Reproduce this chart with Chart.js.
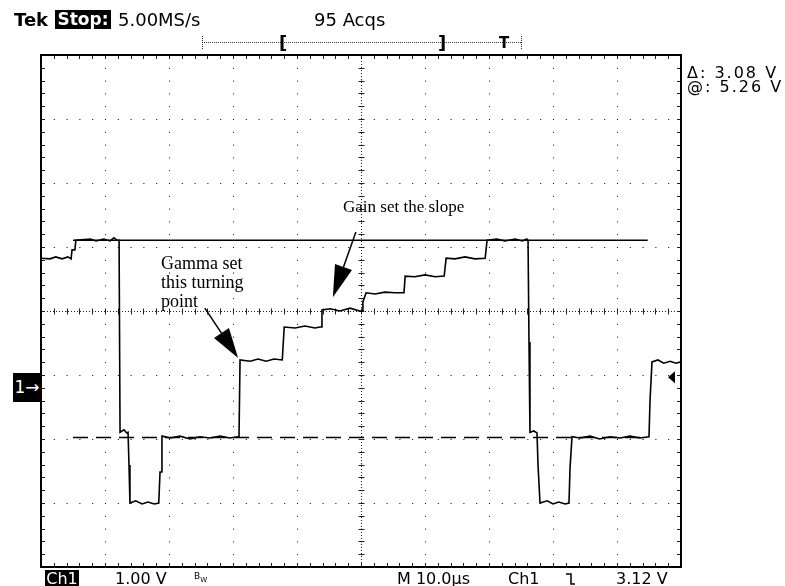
<!DOCTYPE html>
<html><head><meta charset="utf-8">
<script src="https://cdn.jsdelivr.net/npm/chart.js@4.4.1/dist/chart.umd.min.js"></script>
<style>
html,body{margin:0;padding:0;background:#fff;}
#wrap{position:relative;width:785px;height:586px;overflow:hidden;background:#fff;}
canvas{position:absolute;left:0;top:0;}
.t{position:absolute;white-space:pre;font-family:"DejaVu Sans",sans-serif;color:#000;line-height:1;}
.serif{font-family:"Liberation Serif",serif;line-height:19px;font-size:18px;}
.inv{background:#000;color:#fff;}
</style></head><body>
<div id="wrap">
<canvas id="c" width="785" height="586"></canvas>
<div class="t" style="left:14px;top:11px;font-size:18px;font-weight:bold">Tek</div>
<div class="t inv" style="left:55px;top:10px;width:56px;height:19px;font-size:17px;font-weight:bold;text-align:center;line-height:19px">Stop:</div>
<div class="t" style="left:118px;top:11px;font-size:18px">5.00MS/s</div>
<div class="t" style="left:314px;top:11px;font-size:18px">95 Acqs</div>
<div class="t" style="left:279px;top:34px;font-size:18px;font-weight:bold">[</div>
<div class="t" style="left:438px;top:34px;font-size:18px;font-weight:bold">]</div>
<div class="t" style="left:499px;top:36px;font-size:15px;font-weight:bold">T</div>
<div class="t" style="left:687px;top:65px;font-size:16px;letter-spacing:2px">Δ: 3.08 V</div>
<div class="t" style="left:687px;top:79px;font-size:16px;letter-spacing:2px">@: 5.26 V</div>
<div class="t inv" style="left:13px;top:373px;width:28px;height:29px;font-size:17px;line-height:29px;text-align:center">1→</div>
<div class="t inv" style="left:45px;top:570px;width:34px;height:16px;font-size:16px;line-height:17px;text-align:center">Ch1</div>
<div class="t" style="left:115px;top:571px;font-size:16px">1.00 V</div>
<div class="t" style="left:194px;top:572px;font-size:9px">B<sub style="font-size:7px">W</sub></div>
<div class="t" style="left:397px;top:571px;font-size:16px">M 10.0µs</div>
<div class="t" style="left:508px;top:571px;font-size:16px">Ch1</div>
<div class="t" style="left:616px;top:571px;font-size:16px">3.12 V</div>
<div class="t serif" style="left:161px;top:254px">Gamma set<br>this turning<br>point</div>
<div class="t serif" style="left:343px;top:198px;font-size:17px;line-height:17px">Gain set the slope</div>
</div>
<script>
// time (µs, 10 µs/div) and Ch1 voltage (V, 1 V/div, relative to the Ch1 ground marker)
const traceTimeUs = [0,1.4,2.3,3.3,4.2,4.7,4.85,5.3,5.45,7.7,8.6,9.8,10.8,11.4,11.9,12.2,12.35,12.97,13.4,13.6,13.75,13.9,14.8,15.8,16.7,17.7,18.4,18.6,18.75,18.9,20.2,21.7,23.3,24.8,26.4,28,29.5,30.8,30.94,31.1,32.7,33.9,35.2,36.4,37.7,37.8,38.0,39.7,41.25,42.8,43.6,43.75,43.9,45.2,46.7,48.3,49.8,50.16,50.3,50.8,52.2,53.75,55.3,56.6,56.72,56.9,58.4,60,61.6,63,63.1,63.3,64.7,66.25,67.8,69.4,69.5,69.7,71.25,72.5,74.1,75.2,75.9,76.1,76.25,76.4,77,77.5,77.66,77.97,79.1,80,80.9,81.9,82.5,82.66,82.97,84.2,85.8,87.3,88.9,90.5,92,93.6,95,95.16,95.47,96.4,97.3,98.3,99.2,100];
const traceVolts  = [1.95,1.94,1.97,1.94,1.97,1.94,2.08,2.08,2.23,2.25,2.22,2.25,2.22,2.27,2.23,2.23,-0.77,-0.73,-0.78,-0.77,-1.28,-1.875,-1.84,-1.89,-1.86,-1.89,-1.875,-1.39,-1.39,-0.83,-0.86,-0.83,-0.875,-0.84,-0.86,-0.83,-0.86,-0.84,-0.84,0.36,0.34,0.375,0.34,0.375,0.36,0.36,0.875,0.86,0.89,0.86,0.875,0.875,1.14,1.16,1.125,1.17,1.125,1.125,1.27,1.41,1.39,1.42,1.41,1.41,1.41,1.67,1.66,1.69,1.66,1.67,1.67,1.95,1.94,1.97,1.94,1.95,1.95,2.23,2.25,2.22,2.25,2.22,2.25,2.23,0.64,-0.77,-0.75,-0.78,-1.28,-1.875,-1.84,-1.89,-1.86,-1.89,-1.875,-1.33,-0.84,-0.86,-0.83,-0.875,-0.84,-0.86,-0.83,-0.86,-0.84,-0.27,0.33,0.36,0.31,0.34,0.31,0.33];
const cursorLevelsV = [2.23, -0.85];          // Δ = 3.08 V
const cursorSpanUs = [5.0, 94.8];
const xGridUs = [0,10,20,30,40,50,60,70,80,90,100];
const yGridV = [-2.875,-1.875,-0.875,0.125,1.125,2.125,3.125,4.125,5.125];
const triggerLevelV = 0.09;
const gammaArrow = {from:[25.6,1.17], to:[30.8,0.39]};
const gainArrow  = {from:[49.2,2.36], to:[45.6,1.34]};

const pts = traceTimeUs.map((t,i)=>({x:t,y:traceVolts[i]}));
const cur = lv => cursorSpanUs.map(t=>({x:t,y:lv}));

function arrow(ctx, x0,y0,x1,y1, len, half){
  const a=Math.atan2(y1-y0,x1-x0);
  const bx=x1-len*Math.cos(a), by=y1-len*Math.sin(a);
  ctx.beginPath();ctx.moveTo(x0,y0);ctx.lineTo(bx,by);ctx.lineWidth=1.5;ctx.stroke();
  ctx.beginPath();ctx.moveTo(x1,y1);
  ctx.lineTo(bx+half*Math.sin(a),by-half*Math.cos(a));
  ctx.lineTo(bx-half*Math.sin(a),by+half*Math.cos(a));
  ctx.closePath();ctx.fill();
}

const graticule = {
  id:'graticule',
  beforeDatasetsDraw(chart){
    const {ctx, chartArea:ca, scales:{x,y}} = chart;
    ctx.save();
    ctx.strokeStyle='#222';ctx.lineWidth=1;
    for(let k=0;k<=50;k++){
      const px=Math.round(x.getPixelForValue(xGridUs[0]+k*2))+0.5;
      ctx.beginPath();ctx.moveTo(px,ca.top);ctx.lineTo(px,ca.top+4);
      ctx.moveTo(px,ca.bottom);ctx.lineTo(px,ca.bottom-4);ctx.stroke();
    }
    for(let k=0;k<=40;k++){
      const py=Math.round(y.getPixelForValue(yGridV[0]+k*0.2))+0.5;
      ctx.beginPath();ctx.moveTo(ca.left,py);ctx.lineTo(ca.left+4,py);
      ctx.moveTo(ca.right,py);ctx.lineTo(ca.right-4,py);ctx.stroke();
    }
    const cx=Math.round(x.getPixelForValue(xGridUs[5]))+0.5;
    const cy=Math.round(y.getPixelForValue(yGridV[4]))+0.5;
    ctx.setLineDash([1,2]);
    ctx.beginPath();ctx.moveTo(ca.left,cy);ctx.lineTo(ca.right,cy);
    ctx.moveTo(cx,ca.top);ctx.lineTo(cx,ca.bottom);ctx.stroke();
    ctx.setLineDash([]);
    for(let k=0;k<=50;k++){
      const px=Math.round(x.getPixelForValue(k*2))+0.5;
      ctx.beginPath();ctx.moveTo(px,cy-3);ctx.lineTo(px,cy+3);ctx.stroke();
    }
    for(let k=0;k<=40;k++){
      const py=Math.round(y.getPixelForValue(yGridV[0]+k*0.2))+0.5;
      ctx.beginPath();ctx.moveTo(cx-3,py);ctx.lineTo(cx+3,py);ctx.stroke();
    }
    ctx.restore();
  },
  afterDatasetsDraw(chart){
    const {ctx, chartArea:ca, scales:{x,y}} = chart;
    ctx.save();
    ctx.strokeStyle='#000';ctx.lineWidth=2;
    ctx.strokeRect(ca.left,ca.top,ca.right-ca.left,ca.bottom-ca.top);
    ctx.fillStyle='#000';ctx.strokeStyle='#000';
    const A=(o,len,half)=>arrow(ctx,x.getPixelForValue(o.from[0]),y.getPixelForValue(o.from[1]),x.getPixelForValue(o.to[0]),y.getPixelForValue(o.to[1]),len,half);
    A(gammaArrow,30,9); A(gainArrow,32,9);
    const ty=y.getPixelForValue(triggerLevelV);
    ctx.beginPath();ctx.moveTo(ca.right-13,ty);ctx.lineTo(ca.right-6,ty-6);ctx.lineTo(ca.right-6,ty+6);ctx.closePath();ctx.fill();
    ctx.lineWidth=1;ctx.strokeStyle='#333';ctx.setLineDash([1,1]);
    ctx.beginPath();ctx.moveTo(202,42.5);ctx.lineTo(521,42.5);
    ctx.moveTo(202.5,36);ctx.lineTo(202.5,49);ctx.moveTo(521.5,36);ctx.lineTo(521.5,49);ctx.stroke();
    ctx.setLineDash([]);
    ctx.strokeStyle='#000';ctx.lineWidth=1.5;
    ctx.beginPath();ctx.moveTo(566,574);ctx.lineTo(571,574);ctx.lineTo(571,584);ctx.lineTo(575,584);ctx.stroke();
    ctx.restore();
  }
};

new Chart(document.getElementById('c'),{
  type:'scatter',
  data:{datasets:[
    {data:pts,showLine:true,borderColor:'#000',borderWidth:1.6,pointRadius:0,tension:0},
    {data:cur(cursorLevelsV[0]),showLine:true,borderColor:'#000',borderWidth:1.5,pointRadius:0},
    {data:cur(cursorLevelsV[1]),showLine:true,borderColor:'#000',borderWidth:1.5,pointRadius:0,borderDash:[15,8]}
  ]},
  options:{
    responsive:false,devicePixelRatio:1,animation:false,
    layout:{padding:{left:41,top:55,right:104,bottom:19}},
    plugins:{legend:{display:false},tooltip:{enabled:false}},
    scales:{
      x:{type:'linear',min:0,max:100,
         afterBuildTicks:s=>{s.ticks=xGridUs.map(v=>({value:v}));},
         afterFit:s=>{s.height=0;},
         ticks:{display:false},
         grid:{color:'#000',lineWidth:1,drawTicks:false},
         border:{display:false,dash:[1,11.8]}},
      y:{type:'linear',min:yGridV[0],max:yGridV[yGridV.length-1],
         afterBuildTicks:s=>{s.ticks=yGridV.map(v=>({value:v}));},
         afterFit:s=>{s.width=0;},
         ticks:{display:false},
         grid:{color:'#000',lineWidth:1,drawTicks:false},
         border:{display:false,dash:[1,11.8]}}
    }
  },
  plugins:[graticule]
});
</script>
</body></html>
